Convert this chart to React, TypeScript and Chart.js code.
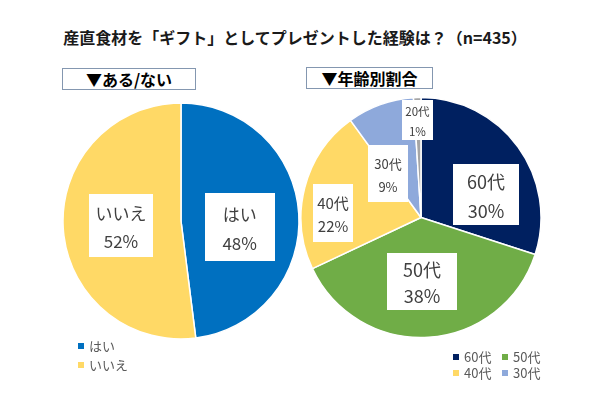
import React, { useEffect, useRef } from "react";
import { Chart, registerables } from "chart.js";

Chart.register(...registerables);

const titleText = "産直食材を「ギフト」としてプレゼントした経験は？（n=435）";
const leftHeading = "▼ある/ない";
const rightHeading = "▼年齢別割合";

const ynLabels = ["はい", "いいえ"];
const ynValues = [48, 52];
const ynColors = ["#0070C0", "#FFD966"];

const ageLabels = ["60代", "50代", "40代", "30代", "20代"];
const ageValues = [30, 38, 22, 9, 1];
const ageColors = ["#002060", "#70AD47", "#FFD966", "#8EA9DB", "#A5A5A5"];
const ageLegendCount = 4;

const FONT = '"Noto Sans CJK JP", "Noto Sans", sans-serif';

type Place = { f: number; a: number; w: number; h: number; size: number; gap: number };

const ynPlaces: Place[] = [
  { f: 0.5, a: 95.8, w: 70, h: 68, size: 17, gap: 29 },
  { f: 0.51, a: 265.7, w: 64, h: 63, size: 17, gap: 28 },
];
const agePlaces: Place[] = [
  { f: 0.575, a: 70.5, w: 66, h: 61, size: 18, gap: 29 },
  { f: 0.533, a: 179.1, w: 70, h: 57, size: 18, gap: 26 },
  { f: 0.734, a: 272.9, w: 40, h: 58, size: 15, gap: 23 },
  { f: 0.458, a: 323.1, w: 40, h: 57, size: 13, gap: 23 },
  { f: 0.813, a: 357.9, w: 31, h: 40, size: 11.5, gap: 20 },
];

const boxLabelPlugin = {
  id: "boxLabels",
  afterDatasetsDraw(chart: any, _args: any, opts: any) {
    const meta = chart.getDatasetMeta(0);
    const arc0 = meta.data[0];
    if (!arc0) return;
    const cx = arc0.x;
    const cy = arc0.y;
    const r = arc0.outerRadius;
    const ctx = chart.ctx;
    const labels = chart.data.labels;
    const values = chart.data.datasets[0].data;
    const places: Place[] = opts.places || [];
    ctx.save();
    places.forEach((p, i) => {
      const rad = (p.a * Math.PI) / 180;
      const x = cx + r * p.f * Math.sin(rad);
      const y = cy - r * p.f * Math.cos(rad);
      ctx.fillStyle = "#ffffff";
      ctx.fillRect(Math.round(x - p.w / 2), Math.round(y - p.h / 2), p.w, p.h);
      ctx.fillStyle = "#404040";
      ctx.font = `${p.size}px ${FONT}`;
      ctx.textAlign = "center";
      ctx.textBaseline = "middle";
      const ty = y + 2;
      ctx.fillText(String(labels[i]), x, ty - p.gap / 2);
      ctx.fillText(`${values[i]}%`, x, ty + p.gap / 2);
    });
    ctx.restore();
  },
};

function PieCanvas(props: {
  labels: string[];
  values: number[];
  colors: string[];
  places: Place[];
  radius: number;
  style: React.CSSProperties;
  width: number;
  height: number;
}) {
  const ref = useRef<HTMLCanvasElement | null>(null);
  useEffect(() => {
    if (!ref.current) return;
    const chart = new Chart(ref.current, {
      type: "pie",
      data: {
        labels: props.labels,
        datasets: [
          {
            data: props.values,
            backgroundColor: props.colors,
            borderColor: "#ffffff",
            borderWidth: 1.5,
            hoverOffset: 0,
          },
        ],
      },
      options: {
        animation: false,
        responsive: false,
        maintainAspectRatio: false,
        radius: props.radius,
        layout: { padding: 0 },
        events: [],
        plugins: {
          legend: { display: false },
          tooltip: { enabled: false },
          title: { display: false },
          boxLabels: { places: props.places },
        } as any,
      } as any,
      plugins: [boxLabelPlugin],
    });
    return () => chart.destroy();
  }, []);
  return (
    <canvas
      ref={ref}
      width={props.width}
      height={props.height}
      style={{ position: "absolute", width: props.width, height: props.height, ...props.style }}
    />
  );
}

const headingStyle: React.CSSProperties = {
  position: "absolute",
  boxSizing: "border-box",
  border: "1px solid #8497B0",
  background: "#fff",
  fontFamily: FONT,
  fontWeight: 700,
  fontSize: 16,
  color: "#000",
  textAlign: "center",
  whiteSpace: "nowrap",
};

function LegendItem(props: { color: string; text: string; x: number; y: number }) {
  return (
    <div
      style={{
        position: "absolute",
        left: props.x,
        top: props.y - 9,
        height: 18,
        lineHeight: "18px",
        fontFamily: FONT,
        fontSize: 13,
        color: "#595959",
        whiteSpace: "nowrap",
      }}
    >
      <span
        style={{
          display: "inline-block",
          width: 6,
          height: 6,
          background: props.color,
          marginRight: 5,
          verticalAlign: "middle",
          position: "relative",
          top: -1,
        }}
      />
      {props.text}
    </div>
  );
}

export default function App() {
  return (
    <div
      style={{
        position: "absolute",
        left: 0,
        top: 0,
        width: 600,
        height: 399,
        background: "#ffffff",
        overflow: "hidden",
      }}
    >
      <div
        style={{
          position: "absolute",
          left: 0,
          width: 590,
          top: 27,
          lineHeight: "20px",
          textAlign: "center",
          fontFamily: FONT,
          fontWeight: 700,
          fontSize: 16,
          color: "#1a1a1a",
          whiteSpace: "nowrap",
        }}
      >
        {titleText}
      </div>
      <div style={{ ...headingStyle, left: 62, top: 68, width: 134, height: 22, lineHeight: "20px" }}>
        {leftHeading}
      </div>
      <div style={{ ...headingStyle, left: 306, top: 67, width: 127, height: 22, lineHeight: "20px" }}>
        {rightHeading}
      </div>
      <PieCanvas
        labels={ynLabels}
        values={ynValues}
        colors={ynColors}
        places={ynPlaces}
        radius={118}
        width={240}
        height={240}
        style={{ left: 61, top: 101 }}
      />
      <PieCanvas
        labels={ageLabels}
        values={ageValues}
        colors={ageColors}
        places={agePlaces}
        radius={120}
        width={244}
        height={245}
        style={{ left: 299, top: 95 }}
      />
      {ynLabels.map((l, i) => (
        <LegendItem key={l} color={ynColors[i]} text={l} x={78} y={346 + i * 19} />
      ))}
      {ageLabels.slice(0, ageLegendCount).map((l, i) => (
        <LegendItem
          key={l}
          color={ageColors[i]}
          text={l}
          x={i % 2 === 0 ? 453 : 502}
          y={357 + Math.floor(i / 2) * 16}
        />
      ))}
    </div>
  );
}
